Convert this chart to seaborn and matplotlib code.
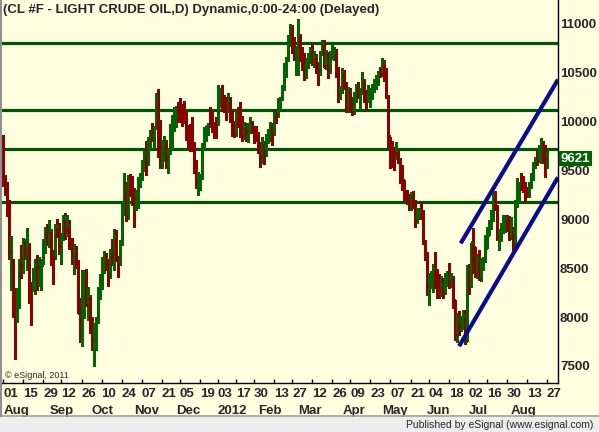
import matplotlib
matplotlib.use("Agg")
import matplotlib.pyplot as plt
import matplotlib.transforms as mtransforms
from matplotlib.lines import Line2D
from matplotlib.patches import Rectangle
import seaborn as sns
import pandas as pd
import numpy as np

# trading days, Aug 2011 - Aug 2012 (exchange holidays left out)
holidays = ['2011-09-05', '2011-11-24', '2011-12-26', '2012-01-02', '2012-01-16',
            '2012-02-20', '2012-04-06', '2012-05-28', '2012-07-04']
dates = pd.bdate_range('2011-08-01', '2012-08-27')
dates = dates[~dates.isin(pd.to_datetime(holidays))]

opens = [
    9570, 9440, 9370, 9190, 8660, 8580, 8120, 7980, 8280, 8560, 8540, 8780, 8660, 8740, 8230, 8300, 8410, 8540, 8510, 8530, 8560, 8730, 8890,
    8880, 8880, 8630, 8610, 8930, 8900, 8700, 8820, 9010, 8890, 8940, 8780, 8580, 8690, 8560, 8040, 7990, 8030, 8440, 8130, 8200,
    7900, 7760, 7890, 7970, 8260, 8300, 8540, 8580, 8550, 8420, 8680, 8640, 8830, 8600, 8540, 8750, 9120, 9320, 9030, 9390, 9330,
    9300, 9220, 9250, 9400, 9430, 9550, 9680, 9570, 9780, 9900, 9810, 9940, 10260, 9880, 9740, 9760, 9800, 9620, 9680, 9820, 9980,
    10030, 10060, 10050, 10040, 10020, 10010, 9830, 9790, 9780, 9760, 9490, 9390, 9400, 9420, 9720, 9870, 9950, 9970, 9960, 9930, 9910,
    10000, 10290, 10320, 10180, 10150, 10130, 10220, 10080, 9910, 9870, 10070, 10060, 10040, 9850, 9960, 9890, 9940, 9970, 9950, 9880,
    9850, 9760, 9640, 9780, 9690, 9840, 9870, 9980, 9870, 10090, 10070, 10180, 10230, 10330, 10580, 10630, 10780, 10970, 10850, 10650,
    10710, 10880, 10670, 10660, 10470, 10616, 10650, 10740, 10630, 10670, 10540, 10510, 10700, 10800, 10560, 10620, 10530, 10690, 10700, 10730, 10540, 10280,
    10300, 10520, 10400, 10150, 10330, 10240, 10100, 10270, 10360, 10280, 10290, 10420, 10260, 10230, 10300, 10310, 10350, 10410, 10450, 10490,
    10490, 10610, 10520, 10250, 9760, 9790, 9700, 9680, 9700, 9610, 9480, 9400, 9280, 9250, 9150, 9260, 9160, 9000, 9070, 9090, 9070, 8780,
    8650, 8320, 8390, 8430, 8500, 8480, 8410, 8270, 8330, 8260, 8390, 8400, 8330, 8400, 8180, 7820, 7970, 7920, 7940, 8020, 7760,
    8490, 8380, 8760, 8720, 8450, 8600, 8390, 8580, 8610, 8710, 8840, 8920, 8990, 9260, 9140, 8810, 8850, 8900, 8940, 9010, 8970,
    8810, 8890, 8710, 9140, 9220, 9370, 9340, 9330, 9290, 9270, 9340, 9430, 9560, 9600, 9600, 9670, 9720, 9630, 9610,
]
highs = [
    9860, 9450, 9380, 9200, 8830, 8600, 8300, 8300, 8600, 8740, 8810, 8800, 8910, 8760, 8360, 8500, 8600, 8640, 8620, 8600, 8800, 8920, 8950,
    8990, 8900, 8690, 8950, 9000, 8960, 8860, 9050, 9070, 9050, 8990, 8810, 8750, 8730, 8580, 8195, 8480, 8480, 8490, 8310, 8230,
    8000, 7940, 8000, 8310, 8440, 8615, 8680, 8660, 8590, 8700, 8800, 8900, 8890, 8630, 8790, 9180, 9475, 9380, 9450, 9460, 9440,
    9320, 9300, 9430, 9480, 9610, 9710, 9800, 9840, 9915, 9990, 9960, 10295, 10335, 10017, 9813, 9850, 9810, 9720, 9980, 10070, 10150,
    10160, 10200, 10240, 10180, 10210, 10100, 9965, 9980, 10050, 9790, 9610, 9485, 9470, 9780, 9945, 9960, 9990, 10150, 10100, 10000, 10050,
    10375, 10340, 10375, 10270, 10250, 10290, 10250, 10120, 10010, 10130, 10150, 10200, 10060, 10000, 9990, 9990, 10050, 10010, 9960, 9960,
    9890, 9790, 9840, 9800, 9870, 9930, 10000, 9990, 10100, 10130, 10240, 10250, 10380, 10600, 10660, 10890, 10995, 10990, 10870, 10770,
    11050, 10900, 10760, 10703, 10650, 10700, 10760, 10800, 10720, 10690, 10611, 10720, 10836, 10836, 10734, 10713, 10720, 10780, 10760, 10740, 10560, 10370,
    10550, 10530, 10406, 10355, 10340, 10253, 10300, 10390, 10410, 10350, 10510, 10440, 10320, 10380, 10340, 10390, 10440, 10480, 10520, 10560,
    10650, 10630, 10550, 10275, 9845, 9800, 9740, 9790, 9720, 9630, 9555, 9400, 9300, 9260, 9280, 9290, 9200, 9120, 9120, 9180, 9096, 8790,
    8670, 8450, 8470, 8540, 8670, 8490, 8440, 8420, 8400, 8450, 8470, 8555, 8450, 8420, 8180, 8040, 8060, 8010, 8070, 8073, 8535,
    8540, 8760, 8910, 8720, 8650, 8690, 8610, 8620, 8840, 8925, 8994, 9096, 9280, 9290, 9150, 8900, 8960, 9045, 9050, 9050, 9030,
    9025, 8920, 9200, 9425, 9380, 9475, 9440, 9380, 9330, 9380, 9480, 9590, 9640, 9700, 9760, 9835, 9800, 9760, 9700,
]
lows = [
    9340, 9250, 9040, 8600, 8280, 8000, 7571, 7950, 8090, 8400, 8450, 8600, 8480, 8140, 7920, 8270, 8240, 8280, 8320, 8280, 8540, 8660, 8740,
    8720, 8530, 8340, 8600, 8820, 8650, 8540, 8790, 8800, 8830, 8700, 8540, 8440, 8500, 8040, 7745, 7700, 7990, 8110, 7970, 7840,
    7665, 7495, 7665, 7940, 8190, 8290, 8450, 8480, 8320, 8400, 8530, 8480, 8570, 8410, 8530, 8740, 9050, 8980, 9000, 9240, 9150,
    8920, 9100, 9120, 9330, 9400, 9500, 9450, 9560, 9730, 9800, 9720, 9930, 9640, 9525, 9525, 9600, 9525, 9480, 9670, 9730, 9900,
    9950, 9995, 10000, 9960, 9990, 9813, 9730, 9700, 9700, 9475, 9320, 9250, 9300, 9410, 9710, 9800, 9860, 9945, 9890, 9835, 9830,
    9970, 10150, 10110, 10100, 10017, 10100, 10000, 9850, 9845, 9850, 9950, 9845, 9800, 9820, 9800, 9790, 9880, 9880, 9780, 9800,
    9680, 9536, 9580, 9570, 9650, 9780, 9800, 9760, 9860, 9990, 10050, 10120, 10220, 10320, 10460, 10620, 10770, 10700, 10630, 10478,
    10478, 10620, 10530, 10427, 10450, 10550, 10600, 10580, 10560, 10500, 10375, 10480, 10680, 10560, 10540, 10447, 10500, 10640, 10630, 10457, 10200, 10230,
    10290, 10330, 10100, 10100, 10100, 10070, 10080, 10200, 10240, 10130, 10280, 10200, 10130, 10200, 10150, 10230, 10300, 10330, 10380, 10460,
    10470, 10420, 10240, 9740, 9525, 9540, 9505, 9620, 9580, 9370, 9300, 9200, 9160, 9095, 9100, 9120, 8920, 8960, 9000, 9000, 8750, 8585,
    8226, 8125, 8300, 8260, 8300, 8200, 8200, 8220, 8200, 8240, 8320, 8300, 8310, 8090, 7766, 7745, 7820, 7860, 7880, 7728, 7760,
    8240, 8310, 8450, 8410, 8400, 8380, 8370, 8480, 8565, 8710, 8840, 8900, 8980, 9100, 8790, 8690, 8780, 8860, 8870, 8880, 8790,
    8800, 8690, 8700, 9130, 9180, 9300, 9280, 9180, 9230, 9230, 9320, 9400, 9525, 9560, 9590, 9580, 9580, 9435, 9530,
]
closes = [
    9489, 9379, 9193, 8663, 8688, 8131, 7930, 8289, 8572, 8538, 8788, 8665, 8758, 8238, 8226, 8412, 8544, 8516, 8530, 8537, 8727, 8890, 8881,
    8893, 8645, 8602, 8934, 8905, 8724, 8819, 9021, 8891, 8940, 8796, 8570, 8692, 8592, 8051, 7985, 8024, 8445, 8121, 8214, 7920,
    7761, 7902, 7968, 8259, 8298, 8541, 8581, 8557, 8423, 8680, 8638, 8834, 8598, 8530, 8740, 9127, 9317, 9020, 9396, 9332, 9319,
    9219, 9251, 9407, 9426, 9552, 9680, 9574, 9778, 9899, 9814, 9937, 10259, 9882, 9741, 9767, 9801, 9617, 9677, 9821, 9979, 10036,
    10060, 10050, 10045, 10020, 10010, 9834, 9790, 9777, 9760, 9495, 9387, 9400, 9420, 9722, 9867, 9953, 9968, 9960, 9936, 9915, 9883,
    10296, 10322, 10181, 10156, 10131, 10224, 10087, 9910, 9870, 10071, 10059, 10039, 9846, 9958, 9895, 9940, 9970, 9956, 9878, 9848,
    9761, 9636, 9784, 9691, 9841, 9870, 9984, 9867, 10091, 10074, 10180, 10231, 10324, 10584, 10628, 10783, 10977, 10856, 10655, 10707,
    10884, 10670, 10660, 10470, 10616, 10658, 10740, 10634, 10671, 10543, 10511, 10706, 10809, 10561, 10620, 10535, 10687, 10703, 10733, 10541, 10278, 10302,
    10523, 10401, 10147, 10331, 10246, 10102, 10270, 10364, 10283, 10293, 10420, 10267, 10227, 10305, 10311, 10355, 10412, 10455, 10493, 10487,
    10616, 10522, 10254, 9849, 9794, 9701, 9681, 9708, 9613, 9478, 9398, 9281, 9256, 9148, 9257, 9166, 8990, 9066, 9086, 9076, 8782, 8653,
    8323, 8398, 8429, 8502, 8482, 8410, 8270, 8332, 8262, 8391, 8403, 8327, 8403, 8180, 7820, 7976, 7921, 7936, 8021, 7769, 8496,
    8375, 8766, 8722, 8445, 8599, 8391, 8581, 8608, 8710, 8843, 8922, 8987, 9266, 9144, 8814, 8850, 8897, 8939, 9013, 8978, 8806,
    8891, 8713, 9140, 9220, 9367, 9335, 9330, 9287, 9273, 9343, 9433, 9560, 9601, 9597, 9668, 9726, 9627, 9615, 9621,
]

# horizontal support / resistance levels
levels = [10810, 10115, 9720, 9181]

# trend channel (bar number, price)
upper_x = [228.0, 276.5]
upper_y = [8755, 10431]
lower_x = [227.2, 276.5]
lower_y = [7702, 9431]

tick_days = ['2011-08-01', '2011-08-15', '2011-08-29', '2011-09-12', '2011-09-26', '2011-10-10',
             '2011-10-24', '2011-11-07', '2011-11-21', '2011-12-05', '2011-12-19', '2012-01-03',
             '2012-01-17', '2012-01-30', '2012-02-13', '2012-02-27', '2012-03-12', '2012-03-26',
             '2012-04-09', '2012-04-23', '2012-05-07', '2012-05-21', '2012-06-04', '2012-06-18',
             '2012-07-02', '2012-07-16', '2012-07-30', '2012-08-13', '2012-08-27']
month_labels = ['Aug', 'Sep', 'Oct', 'Nov', 'Dec', '2012', 'Feb', 'Mar', 'Apr', 'May', 'Jun', 'Jul', 'Aug']
price_ticks = [7500, 8000, 8500, 9000, 9500, 10000, 10500, 11000]
last_price = 9621

BG = '#FFFFE0'
UP = '#006400'
DOWN = '#8B0000'
LEVEL = '#005500'
CHANNEL = '#0B0B8F'

sns.set_style("white", {"axes.facecolor": BG, "figure.facecolor": BG})
plt.rcParams['font.family'] = ['Liberation Sans', 'DejaVu Sans']

df = pd.DataFrame({'date': dates, 'open': opens, 'high': highs, 'low': lows, 'close': closes})
df['i'] = np.arange(len(df))
prev = df['close'].shift(1).fillna(df['open'])
df['color'] = np.where(df['close'] >= prev, UP, DOWN)

W, H = 599, 432
fig = plt.figure(figsize=(W / 100, H / 100), dpi=100)
ax = fig.add_axes([2 / W, 49 / H, 556 / W, 383 / H])

# horizontal levels
for lv in levels:
    ax.axhline(lv, color=LEVEL, lw=2.3, zorder=1)

# OHLC bars
ax.vlines(df['i'], df['low'], df['high'], colors=df['color'], lw=0.8, antialiased=False, zorder=3)
ax.hlines(df['open'], df['i'] - 0.55, df['i'], colors=df['color'], lw=0.8, antialiased=False, zorder=3)
ax.hlines(df['close'], df['i'], df['i'] + 0.55, colors=df['color'], lw=0.8, antialiased=False, zorder=3)

# trend channel
chan = pd.DataFrame({'x': upper_x + lower_x, 'y': upper_y + lower_y,
                     'line': ['upper'] * 2 + ['lower'] * 2})
sns.lineplot(data=chan, x='x', y='y', units='line', estimator=None, color=CHANNEL,
             lw=3.0, solid_capstyle='butt', ax=ax, zorder=4)

s = 2.006
ax.set_xlim(-(3.3 - 2) / s, (558 - 3.3) / s)
ax.set_ylim(7326, 11245.6)
ax.set_xlabel('')
ax.set_ylabel('')

# x axis: day ticks and month labels
tick_idx = dates.get_indexer(pd.to_datetime(tick_days))
month_idx = df.groupby(df['date'].dt.to_period('M'))['i'].min().values
ax.xaxis.remove_overlapping_locs = False
ax.set_xticks(tick_idx)
ax.set_xticklabels([d[-2:] for d in tick_days], ha='left', fontweight='bold', fontsize=9.5)
ax.set_xticks(month_idx, minor=True)
ax.set_xticklabels(month_labels, minor=True, ha='left', fontweight='bold', fontsize=9.5)
ax.tick_params(axis='x', which='major', direction='in', length=3, width=1, color='black', pad=3.5, bottom=True)
ax.tick_params(axis='x', which='minor', length=0, pad=15.5, bottom=True)

# y axis on the right
ax.yaxis.tick_right()
ax.set_yticks(price_ticks)
ax.set_yticklabels([str(p) for p in price_ticks], fontweight='bold', fontsize=9.5)
ax.tick_params(axis='y', length=0, pad=1.5, right=True, left=False)

for side in ['left', 'top']:
    ax.spines[side].set_visible(False)
for side in ['right', 'bottom']:
    ax.spines[side].set_color('black')
    ax.spines[side].set_linewidth(1.0)

# last price marker
trans = mtransforms.blended_transform_factory(ax.transAxes, ax.transData)
ax.text(1.0 + 2.5 / 556, last_price, str(last_price), transform=trans, ha='left', va='center',
        color='white', fontweight='bold', fontsize=9.5, clip_on=False, zorder=6,
        bbox=dict(facecolor=UP, edgecolor='none', boxstyle='square,pad=0.12'))

# texts
fig.text(3 / W, 1 - 10 / H, '(CL #F - LIGHT CRUDE OIL,D) Dynamic,0:00-24:00 (Delayed)',
         ha='left', va='center', fontweight='bold', fontsize=9.5)
ax.text(3 / 556, 7 / 383, '\u00a9 eSignal, 2011', transform=ax.transAxes, ha='left', va='center', fontsize=6.5)

# footer strip and frame
fig.add_artist(Rectangle((0, 0), 1, 15 / H, transform=fig.transFigure, facecolor='#EDEDED', edgecolor='none'))
fig.add_artist(Line2D([0, 1], [16 / H, 16 / H], transform=fig.transFigure, color='#A0A0A0', lw=1.2))
fig.add_artist(Line2D([0.8 / W, 0.8 / W], [16 / H, 1], transform=fig.transFigure, color='#909090', lw=1.5))
fig.text(593 / W, 7.5 / H, 'Published by eSignal (www.esignal.com)', ha='right', va='center', fontsize=7.5)

fig.savefig('out.png', dpi=100, facecolor=BG)
